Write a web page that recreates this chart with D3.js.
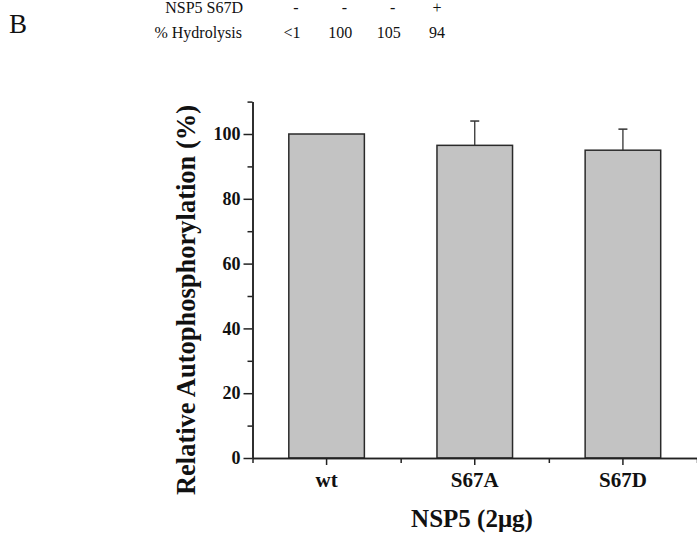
<!DOCTYPE html>
<html lang="en">
<head>
    <meta charset="UTF-8">
    <title>Relative Autophosphorylation</title>
    <script src="https://d3js.org/d3.v7.min.js"></script>
    <style>
        body {
            margin: 0;
            background: #fff;
        }
        svg {
            display: block;
        }
        svg text {
            font-family: "Liberation Serif", "Times New Roman", serif;
        }
        .axis path, .axis line {
            stroke: #222;
            stroke-width: 1.5;
        }
        .axis text {
            fill: #111;
            font-weight: bold;
        }
    </style>
</head>
<body>
    <div id="chart"></div>

    <script>
        // data
        const categories = ["wt", "S67A", "S67D"];
        const values = [100, 96.5, 95];
        const errors = [0, 7.5, 6.5];
        const yTicks = [0, 20, 40, 60, 80, 100];
        const yMinorTicks = [10, 30, 50, 70, 90, 110];
        const s67dSigns = ["-", "-", "-", "+"];
        const hydrolysis = ["<1", "100", "105", "94"];

        const W = 697, H = 538;
        const serif = "Liberation Serif";

        const svg = d3.select("#chart")
            .append("svg")
            .attr("width", W)
            .attr("height", H);

        // scales
        const x = d3.scaleBand()
            .domain(categories)
            .range([252.5, 697])
            .paddingInner(0.49)
            .paddingOuter(0.245);

        const y = d3.scaleLinear()
            .domain([0, 110])
            .range([458, 101.6]);

        // panel letter and table header
        svg.append("text")
            .attr("x", 9)
            .attr("y", 33)
            .attr("font-family", serif)
            .attr("font-size", 27)
            .attr("fill", "#111")
            .text("B");

        const col = d3.scalePoint()
            .domain(d3.range(hydrolysis.length))
            .range([292, 437]);

        svg.append("text")
            .attr("x", 243)
            .attr("y", 13)
            .attr("text-anchor", "end")
            .attr("font-family", serif)
            .attr("font-size", 16)
            .attr("fill", "#111")
            .text("NSP5 S67D");

        svg.selectAll(".sign")
            .data(s67dSigns)
            .enter()
            .append("text")
            .attr("class", "sign")
            .attr("x", (d, i) => col(i) + (d === "-" ? 4 : 0))
            .attr("y", 13)
            .attr("text-anchor", "middle")
            .attr("font-family", serif)
            .attr("font-size", 16)
            .attr("fill", "#111")
            .text(d => d);

        svg.append("text")
            .attr("x", 242)
            .attr("y", 38)
            .attr("text-anchor", "end")
            .attr("font-family", serif)
            .attr("font-size", 16)
            .attr("fill", "#111")
            .text("% Hydrolysis");

        svg.selectAll(".hyd")
            .data(hydrolysis)
            .enter()
            .append("text")
            .attr("class", "hyd")
            .attr("x", (d, i) => col(i))
            .attr("y", 38)
            .attr("text-anchor", "middle")
            .attr("font-family", serif)
            .attr("font-size", 16)
            .attr("fill", "#111")
            .text(d => d);

        // bars
        svg.selectAll(".bar")
            .data(values)
            .enter()
            .append("rect")
            .attr("class", "bar")
            .attr("x", (d, i) => x(categories[i]))
            .attr("y", d => y(d))
            .attr("width", x.bandwidth())
            .attr("height", d => y(0) - y(d))
            .attr("fill", "#c3c3c3")
            .attr("stroke", "#2a2a2a")
            .attr("stroke-width", 1.5);

        // error bars (upper only)
        const cap = 7;
        values.forEach((v, i) => {
            if (!errors[i]) return;
            const cx = x(categories[i]) + x.bandwidth() / 2;
            svg.append("line")
                .attr("x1", cx).attr("x2", cx)
                .attr("y1", y(v)).attr("y2", y(v + errors[i]))
                .attr("stroke", "#333").attr("stroke-width", 1.3);
            svg.append("line")
                .attr("x1", cx - cap / 2 - 1).attr("x2", cx + cap / 2 + 1)
                .attr("y1", y(v + errors[i])).attr("y2", y(v + errors[i]))
                .attr("stroke", "#333").attr("stroke-width", 1.5);
        });

        // y axis
        svg.append("g")
            .attr("class", "axis")
            .attr("transform", "translate(252.5,0)")
            .call(d3.axisLeft(y).tickValues(yMinorTicks).tickSize(5).tickSizeOuter(0).tickFormat(""));

        svg.append("g")
            .attr("class", "axis")
            .attr("transform", "translate(252.5,0)")
            .call(d3.axisLeft(y).tickValues(yTicks).tickSize(9).tickSizeOuter(0).tickPadding(3))
            .selectAll("text")
            .attr("font-size", 18)
            .attr("font-family", serif);

        // x axis
        const bounds = [x.range()[0]].concat(categories.map(c => x(c) + x.bandwidth() / 2 + x.step() / 2));
        svg.append("g")
            .attr("class", "axis")
            .attr("transform", `translate(0,${y(0)})`)
            .call(d3.axisBottom(d3.scaleIdentity().domain(x.range())).tickValues(bounds).tickSize(5).tickSizeOuter(0).tickFormat(""));

        svg.append("g")
            .attr("class", "axis")
            .attr("transform", `translate(0,${y(0)})`)
            .call(d3.axisBottom(x).tickSize(7).tickSizeOuter(0).tickPadding(7))
            .selectAll("text")
            .attr("font-size", 21)
            .attr("font-family", serif);

        // axis titles
        svg.append("text")
            .attr("transform", "translate(195,300) rotate(-90)")
            .attr("text-anchor", "middle")
            .attr("font-family", serif)
            .attr("font-size", 26.5)
            .attr("font-weight", "bold")
            .attr("fill", "#111")
            .text("Relative Autophosphorylation (%)");

        svg.append("text")
            .attr("x", 472)
            .attr("y", 527)
            .attr("text-anchor", "middle")
            .attr("font-family", serif)
            .attr("font-size", 25)
            .attr("font-weight", "bold")
            .attr("fill", "#111")
            .text("NSP5 (2μg)");
    </script>
</body>
</html>
